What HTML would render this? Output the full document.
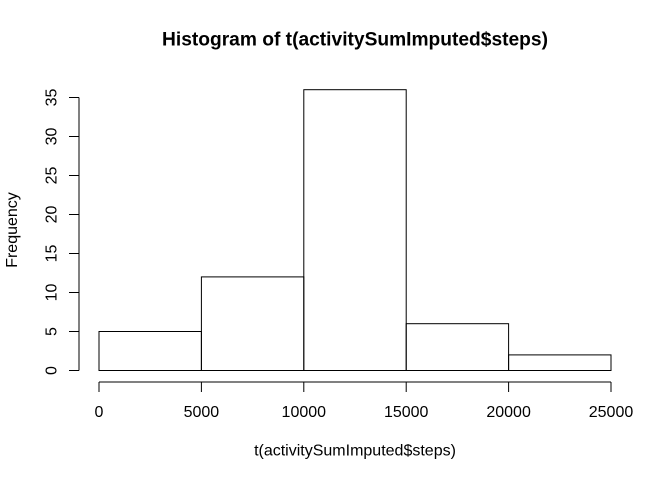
<!DOCTYPE html>
<html>
<head>
<meta charset="utf-8">
<style>
html,body{margin:0;padding:0;background:#fff;}
svg{display:block;}
text{font-family:"Liberation Sans",sans-serif;fill:#000;}
</style>
</head>
<body>
<svg id="chart" xmlns="http://www.w3.org/2000/svg" width="672" height="480" viewBox="0 0 672 480">
<rect x="0" y="0" width="672" height="480" fill="#fff"/>
<text x="355" y="45.5" font-size="19.2" font-weight="bold" text-anchor="middle">Histogram of t(activitySumImputed$steps)</text>
<text x="355" y="455.5" font-size="16" text-anchor="middle">t(activitySumImputed$steps)</text>
<text x="17" y="230" font-size="16" text-anchor="middle" transform="rotate(-90 17 230)">Frequency</text>
<g id="bars"></g>
<g id="xaxis"></g>
<g id="yaxis"></g>
</svg>
<script>
const binEdges = [0, 5000, 10000, 15000, 20000, 25000];
const frequencies = [5, 12, 36, 6, 2];
const xTicks = [0, 5000, 10000, 15000, 20000, 25000];
const yTicks = [0, 5, 10, 15, 20, 25, 30, 35];

const NS = 'http://www.w3.org/2000/svg';
function sx(v) { return 99 + v * (512 / 25000); }
function sy(v) { return 370.5 - v * (273 / 35); }
function make(tag, attrs, parent) {
  const el = document.createElementNS(NS, tag);
  for (const k in attrs) el.setAttribute(k, attrs[k]);
  parent.appendChild(el);
  return el;
}
const stroke = { stroke: '#000', 'stroke-width': 1, fill: 'none' };
const barsG = document.getElementById('bars');
frequencies.forEach(function (f, i) {
  const x0 = sx(binEdges[i]), x1 = sx(binEdges[i + 1]), y = sy(f), y0 = sy(0);
  const r = make('rect', Object.assign({ x: x0, y: y, width: x1 - x0, height: y0 - y }, stroke), barsG);
  
  
});
const xG = document.getElementById('xaxis');
const xAxisY = 382;
const xLine = make('line', Object.assign({ x1: sx(xTicks[0]), x2: sx(xTicks[xTicks.length - 1]), y1: xAxisY, y2: xAxisY }, stroke), xG);


xTicks.forEach(function (t) {
  const tick = make('line', Object.assign({ x1: sx(t), x2: sx(t), y1: xAxisY, y2: xAxisY + 10 }, stroke), xG);
  
  
  const lab = make('text', { x: sx(t), y: 417, 'font-size': 16, 'text-anchor': 'middle' }, xG);
  
  
  lab.textContent = String(t);
});
const yG = document.getElementById('yaxis');
const yAxisX = 79;
const yLine = make('line', Object.assign({ x1: yAxisX, x2: yAxisX, y1: sy(yTicks[0]), y2: sy(yTicks[yTicks.length - 1]) }, stroke), yG);


yTicks.forEach(function (t) {
  const tick = make('line', Object.assign({ x1: yAxisX - 10, x2: yAxisX, y1: sy(t), y2: sy(t) }, stroke), yG);
  
  
  const lab = make('text', { x: 56.5, y: sy(t), 'font-size': 16, 'text-anchor': 'middle', transform: 'rotate(-90 56.5 ' + sy(t) + ')' }, yG);
  
  
  lab.textContent = String(t);
});
</script>
</body>
</html>
